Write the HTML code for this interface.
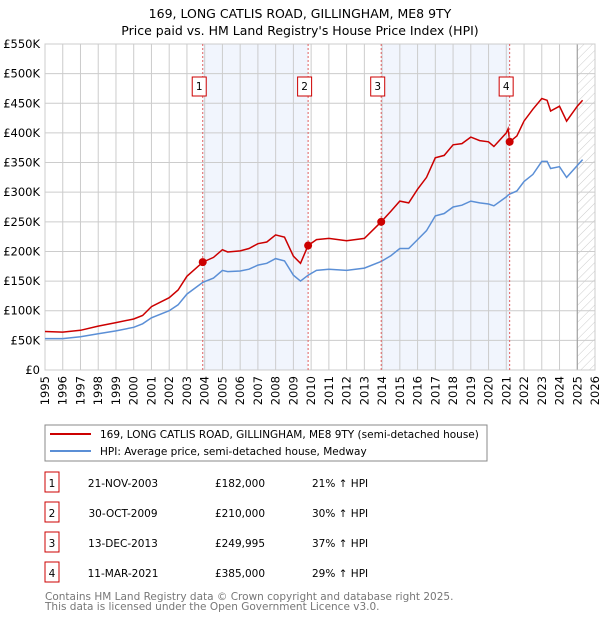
<!DOCTYPE html>
<html><head><meta charset="utf-8"><style>
body{margin:0;background:#fff;font-family:"DejaVu Sans","Liberation Sans",sans-serif;}
svg text{font-family:"DejaVu Sans","Liberation Sans",sans-serif;}
</style></head><body>
<svg id="c" width="600" height="620" viewBox="0 0 600 620">
<defs><pattern id="hatch" width="6" height="6" patternUnits="userSpaceOnUse" patternTransform="rotate(45)"><line x1="0" y1="0" x2="0" y2="6" stroke="#ccc" stroke-width="1"/></pattern></defs>
<text x="300" y="18" text-anchor="middle" font-size="12.5" fill="#000">169, LONG CATLIS ROAD, GILLINGHAM, ME8 9TY</text>
<text x="300" y="35" text-anchor="middle" font-size="12.5" fill="#000">Price paid vs. HM Land Registry's House Price Index (HPI)</text>
<g id="bands"></g><g id="grid"></g><g id="axes"></g><g id="series"></g><g id="marks"></g>
<g>
<rect x="45" y="425" width="442" height="36" fill="#fff" stroke="#888"/>
<line x1="50" y1="434" x2="91" y2="434" stroke="#cc0000" stroke-width="2"/>
<text x="100" y="438" font-size="10.5">169, LONG CATLIS ROAD, GILLINGHAM, ME8 9TY (semi-detached house)</text>
<line x1="50" y1="451" x2="91" y2="451" stroke="#5b8fd6" stroke-width="2"/>
<text x="100" y="455" font-size="10.5">HPI: Average price, semi-detached house, Medway</text>
</g>
<g id="table" font-size="10.5"></g>
<text x="45" y="600" font-size="10.5" fill="#777">Contains HM Land Registry data © Crown copyright and database right 2025.</text>
<text x="45" y="610" font-size="10.5" fill="#777">This data is licensed under the Open Government Licence v3.0.</text>
</svg>
<script>
const years=[1995,1996,1997,1998,1999,2000,2000.5,2001,2002,2002.5,2003,2003.9,2004.5,2005,2005.3,2006,2006.5,2007,2007.5,2008,2008.5,2009,2009.4,2009.83,2010.3,2011,2012,2013,2013.95,2014.5,2015,2015.5,2016,2016.5,2017,2017.5,2018,2018.5,2019,2019.5,2020,2020.3,2021,2021.1,2021.2,2021.6,2022,2022.5,2023,2023.3,2023.5,2024,2024.4,2025,2025.3];
const hpiValues=[53,53,56,61,66,72,78,88,100,110,128,148,155,168,166,167,170,177,180,188,184,160,150,160,168,170,168,172,183,193,205,205,220,235,260,264,275,278,285,282,280,277,292,295,297,302,318,330,352,352,340,343,325,345,355];
const priceValues=[65,64,67,74,80,86,92,107,122,135,158,182,190,203,199,201,205,213,216,228,224,192,180,210,220,222,218,222,250,268,285,282,305,325,358,362,380,382,393,387,385,377,400,407,385,395,420,440,458,455,437,445,420,445,455];
const saleYears=[2003.89,2009.83,2013.95,2021.19];
const salePrices=[182,210,249.995,385];
const saleLabels=["1","2","3","4"];
const saleDates=["21-NOV-2003","30-OCT-2009","13-DEC-2013","11-MAR-2021"];
const salePriceText=["£182,000","£210,000","£249,995","£385,000"];
const salePct=["21% ↑ HPI","30% ↑ HPI","37% ↑ HPI","29% ↑ HPI"];
const yTicks=[0,50,100,150,200,250,300,350,400,450,500,550];
const yTickLabels=["£0","£50K","£100K","£150K","£200K","£250K","£300K","£350K","£400K","£450K","£500K","£550K"];
const xTicks=[1995,1996,1997,1998,1999,2000,2001,2002,2003,2004,2005,2006,2007,2008,2009,2010,2011,2012,2013,2014,2015,2016,2017,2018,2019,2020,2021,2022,2023,2024,2025,2026];
const X0=45,X1=595,Y0=370,Y1=44;
const xs=v=>X0+(v-1995)/(2026-1995)*(X1-X0);
const ys=v=>Y0-v/550*(Y0-Y1);
const NS="http://www.w3.org/2000/svg";
function mk(p,t,a){const e=document.createElementNS(NS,t);for(const k in a)e.setAttribute(k,a[k]);p.appendChild(e);return e;}
const bands=document.getElementById('bands'),grid=document.getElementById('grid'),axes=document.getElementById('axes'),series=document.getElementById('series'),marks=document.getElementById('marks'),table=document.getElementById('table');
for(let i=0;i<4;i+=2){const r=mk(bands,'rect',{x:xs(saleYears[i]),y:Y1,width:xs(saleYears[i+1])-xs(saleYears[i]),height:Y0-Y1,fill:'#eef3fc',opacity:0.8});

}
const h=mk(bands,'rect',{x:xs(2025),y:Y1,width:X1-xs(2025),height:Y0-Y1,fill:'url(#hatch)'});


yTicks.forEach((v,i)=>{mk(grid,'line',{x1:X0,x2:X1,y1:ys(v),y2:ys(v),stroke:'#ccc','stroke-width':1});
const t=mk(axes,'text',{x:40,y:ys(v)+4,'text-anchor':'end','font-size':11.5});t.textContent=yTickLabels[i];

});
xTicks.forEach(v=>{mk(grid,'line',{x1:xs(v),x2:xs(v),y1:Y1,y2:Y0,stroke:'#ccc','stroke-width':1});
const t=mk(axes,'text',{x:0,y:0,'text-anchor':'end','font-size':11.5,transform:`translate(${xs(v)+4},376) rotate(-90)`});t.textContent=v;

});
mk(grid,'line',{x1:xs(2025),x2:xs(2025),y1:Y1,y2:Y0,stroke:'#999','stroke-width':1});
mk(grid,'rect',{x:X0,y:Y1,width:X1-X0,height:Y0-Y1,fill:'none',stroke:'#ccc'});
const path=(vals)=>vals.map((v,i)=>(i?'L':'M')+xs(years[i]).toFixed(1)+','+ys(v).toFixed(1)).join('');
const hl=mk(series,'path',{d:path(hpiValues),fill:'none',stroke:'#5b8fd6','stroke-width':1.5});


const pl=mk(series,'path',{d:path(priceValues),fill:'none',stroke:'#cc0000','stroke-width':1.5});


saleYears.forEach((v,i)=>{mk(marks,'line',{x1:xs(v),x2:xs(v),y1:Y1,y2:Y0,stroke:'#e06060','stroke-dasharray':'2,2','stroke-width':1});
const c=mk(marks,'circle',{cx:xs(v),cy:ys(salePrices[i]),r:4,fill:'#cc0000'});


const b=mk(marks,'rect',{x:xs(v)-10.5,y:77,width:14,height:19,fill:'#fff',stroke:'#cc0000'});


const t=mk(marks,'text',{x:xs(v)-3.5,y:90,'text-anchor':'middle','font-size':10.5});t.textContent=saleLabels[i];
const ry=483+i*30;
const tb=mk(table,'rect',{x:45,y:ry-8-3,width:14,height:20,fill:'#fff',stroke:'#cc0000'});


const tt=mk(table,'text',{x:52,y:ry+4,'text-anchor':'middle'});tt.textContent=saleLabels[i];
const d=mk(table,'text',{x:123,y:ry+4,'text-anchor':'middle'});d.textContent=saleDates[i];


const p=mk(table,'text',{x:240,y:ry+4,'text-anchor':'middle'});p.textContent=salePriceText[i];


const q=mk(table,'text',{x:312,y:ry+4});q.textContent=salePct[i];

});
</script>
</body></html>
